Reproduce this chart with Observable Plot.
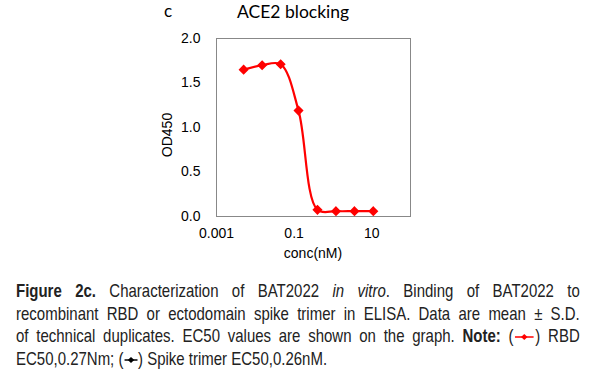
<!DOCTYPE html>
<html><head><meta charset="utf-8">
<script src="https://cdn.jsdelivr.net/npm/d3@7"></script>
<script src="https://cdn.jsdelivr.net/npm/@observablehq/plot@0.6"></script>
<style>
body{margin:0;background:#fff;width:590px;height:381px;overflow:hidden;position:relative;font-family:"Liberation Sans",Arial,sans-serif;}
#chart{position:absolute;left:0;top:0;}
.lbl{position:absolute;color:#000;white-space:nowrap;}
#cap{position:absolute;left:16px;top:280px;width:696px;transform:scaleX(0.81);transform-origin:0 0;font-family:"Liberation Sans",Arial,sans-serif;font-size:18.5px;line-height:22.5px;color:#222;}
#cap div{text-align:justify;text-align-last:justify;white-space:nowrap;}
#cap div.last{text-align-last:left;}
.g{display:inline-block;vertical-align:middle;}
</style></head><body>
<div id="chart"></div>
<div class="lbl" style="left:164px;top:0px;font-family:Lato,sans-serif;font-size:17px;">c</div>
<div class="lbl" style="left:237px;top:1px;font-family:Lato,sans-serif;font-size:17.5px;">ACE2 blocking</div>
<div class="lbl" style="left:167px;top:135px;font-size:14px;transform:translate(-50%,-50%) rotate(-90deg);transform-origin:center;">OD450</div>
<div class="lbl" style="left:313px;top:245px;font-size:14px;transform:translateX(-50%);">conc(nM)</div>
<div id="cap">
<div style="white-space:normal"><b>Figure 2c.</b> Characterization of BAT2022 <i>in vitro</i>. Binding of BAT2022 to</div>
<div style="white-space:normal">recombinant RBD or ectodomain spike trimer in ELISA. Data are mean ± S.D.</div>
<div style="white-space:normal">of technical duplicates. EC50 values are shown on the graph. <b>Note:</b> (<svg class="g" width="27" height="10"><line x1="2" y1="5" x2="25" y2="5" stroke="#f00" stroke-width="1.6"/><path d="M13.5 2L17.5 5L13.5 8L9.5 5Z" fill="#f00"/></svg>) RBD</div>
<div class="last">EC50,0.27Nm; (<svg class="g" width="18" height="10"><line x1="1" y1="5" x2="17" y2="5" stroke="#000" stroke-width="1.4"/><path d="M9 2L13 5L9 8L5 5Z" fill="#000"/></svg>) Spike trimer EC50,0.26nM.</div>
</div>
<script>
const conc = [0.005, 0.015, 0.045, 0.13, 0.4, 1.2, 3.6, 11];
const od450 = [1.65, 1.70, 1.71, 1.19, 0.075, 0.06, 0.06, 0.06];
const xTicks = [0.001, 0.1, 10];
const yTicks = [0, 0.5, 1.0, 1.5, 2.0];
const data = conc.map((c, i) => ({conc: c, od: od450[i]}));

const chart = Plot.plot({
  width: 590, height: 265,
  marginLeft: 216, marginRight: 180, marginTop: 38, marginBottom: 49,
  style: {fontFamily: "'Liberation Sans', Arial, sans-serif", fontSize: "14px", color: "#000", background: "#fff"},
  x: {type: "log", domain: [0.001, 100], ticks: xTicks, tickFormat: d => String(d), tickSize: 0, tickPadding: 12, label: null},
  y: {domain: [0, 2], ticks: yTicks, tickFormat: d3.format(".1f"), tickSize: 0, tickPadding: 16, label: null},
  marks: [
    Plot.frame({stroke: "#888", strokeWidth: 1}),
    Plot.line(data, {x: "conc", y: "od", stroke: "#f00", strokeWidth: 2.2, curve: "catmull-rom"}),
    Plot.dot(data, {x: "conc", y: "od", symbol: "diamond2", r: 3.6, fill: "#f00", stroke: "#f00"})
  ]
});
document.getElementById("chart").appendChild(chart);
</script>
</body></html>
